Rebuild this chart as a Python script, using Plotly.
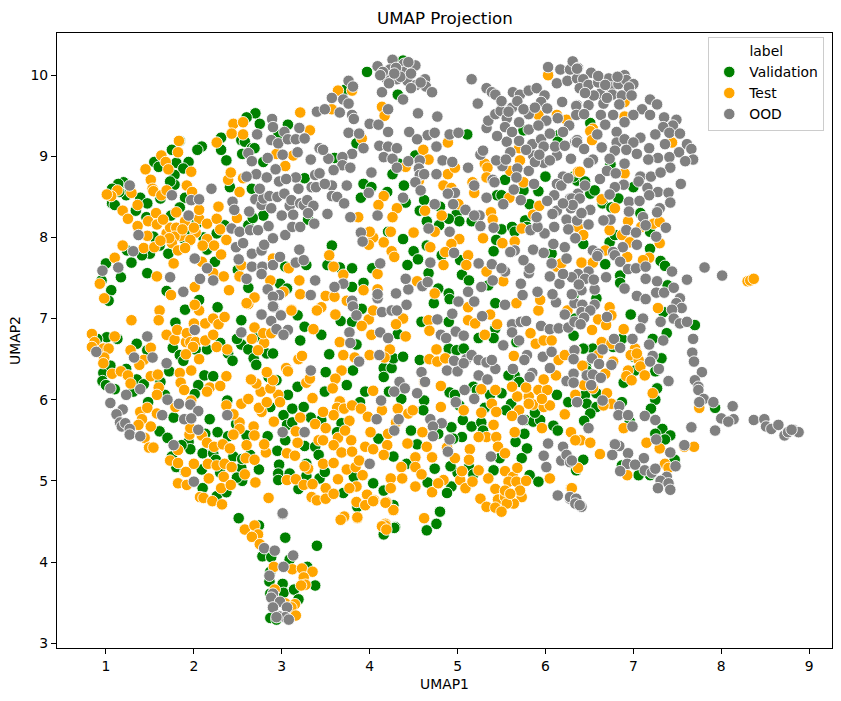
import plotly.graph_objects as go

# values, (UMAP1, UMAP2)
validation_points = [
    (2.70,9.53),(2.75,9.40),(2.60,9.48),(3.07,9.39),(2.31,9.23),(2.09,9.12),(2.04,9.08),(2.31,9.08),(2.37,8.95),(1.75,9.08),
    (1.84,9.19),(1.55,8.93),(1.60,8.87),(1.80,8.92),(1.94,8.93),(1.88,8.85),(1.78,8.77),(1.78,8.65),(1.73,8.69),(1.20,8.68),
    (1.14,8.66),(1.07,8.60),(1.07,8.42),(1.10,8.40),(1.23,8.52),(1.39,8.49),(1.47,8.42),(1.34,8.33),(1.46,8.25),(1.90,8.49),
    (1.84,8.37),(2.35,8.15),(2.26,8.05),(2.15,7.85),(1.92,7.93),(1.96,8.07),(1.54,8.01),(1.61,7.90),(1.29,7.69),(1.00,7.68),
    (1.17,7.51),(1.06,7.35),(1.03,7.22),(1.47,7.56),(1.50,7.80),(1.41,7.78),(1.71,7.80),(1.69,7.34),(2.06,7.23),(1.90,7.11),
    (2.27,7.14),(2.62,7.38),(2.98,7.43),(3.06,7.37),(3.28,7.66),(3.04,7.64),(3.26,8.73),(2.66,8.60),(2.41,8.62),(2.62,8.15),
    (2.79,8.27),(2.67,8.24),(2.54,9.20),(2.58,9.18),(2.66,9.10),(2.79,8.93),(2.69,9.10),(2.55,9.03),(2.96,9.26),(3.30,8.22),
    (1.79,6.95),(2.54,6.98),(3.26,6.90),(3.21,6.73),(3.18,7.04),(1.01,6.77),(1.13,6.75),(1.35,6.69),(1.47,6.61),(1.76,6.64),
    (1.84,6.55),(2.15,6.62),(2.39,6.57),(2.44,6.48),(2.54,6.68),(2.62,6.62),(2.49,6.75),(2.83,6.57),(2.90,6.57),(2.68,6.51),
    (2.71,6.43),(1.23,6.38),(0.97,6.33),(0.96,6.23),(1.10,6.13),(1.35,6.25),(1.43,6.19),(1.72,6.35),(2.12,6.30),(2.22,6.29),
    (2.05,6.18),(2.01,6.07),(1.48,5.97),(1.67,6.06),(1.77,5.78),(2.18,5.76),(2.38,5.99),(1.61,5.61),(1.70,5.53),(1.94,5.48),
    (1.96,5.39),(2.27,5.60),(2.39,5.55),(2.48,5.70),(2.10,5.34),(2.22,5.34),(2.25,5.26),(2.09,5.14),(2.45,5.30),(2.54,5.16),
    (2.64,5.32),(2.74,5.14),(2.55,5.00),(2.49,5.04),(2.10,4.91),(2.26,4.81),(2.37,4.86),(1.80,5.17),(1.90,5.11),(1.75,5.30),
    (2.60,5.56),(2.84,5.55),(2.95,5.37),(2.97,5.20),(2.96,5.09),(2.96,5.01),(3.09,5.09),(3.19,4.90),(3.02,5.81),(3.12,5.89),
    (3.25,5.91),(3.06,5.69),(3.04,5.50),(3.26,5.43),(3.38,5.42),(3.28,5.21),(3.42,5.32),(3.07,6.06),(2.87,5.91),(3.18,6.16),
    (2.94,6.24),(2.51,4.54),(3.43,5.03),(3.80,7.39),(3.93,7.44),(3.91,7.12),(3.67,6.97),(3.80,6.96),(3.45,6.80),(3.54,6.56),
    (3.50,6.34),(3.81,6.36),(3.85,6.68),(4.16,6.39),(4.25,6.39),(4.16,6.28),(4.27,6.51),(4.38,6.53),(4.32,6.81),(3.74,6.18),
    (3.49,6.10),(3.95,6.10),(4.36,6.01),(4.62,5.99),(4.61,5.87),(4.22,6.10),(3.89,5.97),(3.68,5.71),(3.45,5.75),(4.57,6.49),
    (4.90,6.63),(4.99,6.61),(5.07,6.63),(4.91,6.09),(5.18,6.16),(5.22,6.12),(4.97,6.06),(4.93,5.66),(5.06,5.75),(5.16,5.67),
    (5.27,5.72),(5.29,5.62),(5.05,5.54),(4.95,5.52),(4.73,7.19),(4.78,7.37),(4.90,7.31),(4.91,7.24),(5.05,7.54),(5.13,7.47),
    (5.43,7.19),(5.35,7.41),(4.90,6.96),(4.59,6.96),(4.67,7.56),(5.43,6.88),(5.41,6.76),(5.24,6.76),(5.67,6.71),(5.65,6.30),
    (5.70,6.22),(5.50,6.08),(5.61,5.95),(5.37,6.06),(5.55,5.87),(5.77,5.75),(5.86,5.73),(6.09,5.68),(5.94,5.75),(6.13,6.06),
    (6.26,5.97),(5.79,5.40),(5.73,5.28),(5.76,5.58),(5.66,5.48),(5.82,5.07),(5.92,4.99),(5.41,5.13),(5.13,5.17),(5.00,5.10),
    (4.93,4.93),(4.88,4.85),(4.66,4.98),(4.80,4.62),(4.76,4.47),(4.54,5.45),(4.27,5.30),(4.04,4.97),(4.16,4.88),(3.70,4.85),
    (3.49,5.11),(4.42,5.21),(4.74,5.15),(4.29,4.43),(4.65,4.39),(3.97,10.04),(4.38,10.18),(4.32,9.76),(3.72,9.82),(5.11,9.27),
    (3.85,9.16),(3.60,8.98),(4.52,9.01),(4.33,8.91),(4.26,8.78),(3.93,8.66),(4.02,8.62),(3.90,8.49),(4.20,8.56),(4.39,8.64),
    (4.41,8.43),(4.62,8.46),(4.57,8.33),(4.80,8.38),(4.99,8.29),(5.02,8.20),(4.90,8.23),(4.65,8.20),(4.79,8.15),(5.16,8.20),
    (5.45,8.52),(5.50,8.52),(5.75,8.58),(5.92,8.57),(5.82,8.41),(6.00,8.75),(5.54,8.71),(6.15,9.26),(6.14,9.18),(5.75,9.32),
    (5.50,8.10),(5.62,8.13),(5.65,8.07),(5.44,7.97),(5.77,8.21),(5.79,8.13),(6.07,7.80),(5.41,7.83),(4.38,7.98),(4.50,7.83),
    (4.55,7.73),(4.43,7.66),(3.57,7.90),(3.52,7.66),(3.80,7.62),(3.66,7.63),(4.03,7.62),(4.21,8.07),(5.03,7.72),(4.82,7.78),
    (4.65,7.90),(6.36,8.70),(6.51,9.41),(6.74,8.90),(6.83,8.48),(7.00,8.62),(6.51,8.54),(6.56,8.58),(6.45,8.69),(6.32,8.75),
    (6.65,8.42),(6.75,8.37),(7.08,8.30),(6.73,7.94),(6.79,8.03),(6.43,7.92),(7.19,8.07),(7.19,7.86),(6.68,7.67),(7.31,7.71),
    (7.36,7.65),(6.85,7.53),(6.85,7.44),(7.39,7.41),(6.32,7.29),(6.58,7.25),(6.97,7.05),(7.34,7.08),(7.70,6.92),(7.38,6.82),
    (7.22,6.75),(6.32,6.79),(6.34,7.00),(7.32,6.51),(6.87,6.75),(6.77,6.65),(6.54,6.63),(6.43,6.63),(6.46,6.41),(6.47,6.36),
    (6.89,6.21),(7.25,6.35),(7.27,6.14),(7.25,6.00),(6.87,5.97),(6.45,6.06),(6.47,5.95),(6.58,6.08),(6.58,5.91),(6.51,5.83),
    (6.44,5.74),(7.20,5.89),(7.93,5.90),(6.96,5.73),(7.33,5.64),(7.25,5.58),(7.42,5.56),(7.36,5.51),(6.43,5.26),(6.35,5.13),
    (7.47,5.26),(7.06,5.07),(6.87,5.19),(7.19,5.07),(7.00,6.53),(7.02,6.36),(2.78,4.07),(2.88,4.06),(3.09,4.03),(3.29,3.94),
    (2.87,3.88),(2.86,3.76),(3.01,3.73),(3.02,3.62),(3.14,3.66),(3.38,3.71),(3.19,3.54),(2.87,3.61),(2.87,3.31),(2.94,3.29),
    (4.28,4.42),(4.16,4.34),(4.27,4.70),(3.86,4.68),(3.04,4.30),(3.40,4.20),(2.74,4.45),
    # crescents showing under other marks
    (1.15,8.56),(1.62,8.48),(1.74,8.27),(2.03,8.17),(2.11,8.00),(1.88,7.99),(1.24,7.84),(0.95,7.47),(2.24,7.70),(2.50,7.60),
    (0.90,6.75),(1.05,6.42),(1.00,6.18),(1.31,6.10),(1.62,6.22),(1.88,6.48),(2.02,6.62),(2.30,6.70),(2.72,6.78),(2.85,6.28),
    (1.86,5.44),(2.13,5.58),(2.30,5.10),(2.55,5.27),(3.12,5.72),(3.33,5.78),(3.28,5.06),(3.63,5.60),(3.82,5.05),(4.10,5.52),
    (4.47,5.62),(4.78,5.58),(5.02,5.93),(5.31,5.90),(5.58,6.30),(5.88,5.84),(6.14,5.62),(5.48,5.28),(5.18,5.08),(4.92,5.18),
]

test_points = [
    (1.83,9.19),(1.82,9.05),(1.63,9.01),(1.68,8.93),(1.71,8.84),(1.45,8.84),(1.97,8.81),(1.51,8.71),(1.53,8.60),(1.54,8.57),
    (1.13,8.58),(1.06,8.51),(1.01,8.53),(1.29,8.55),(1.63,8.52),(1.69,8.58),(1.92,8.64),(1.98,8.56),(1.19,8.33),(1.25,8.23),
    (1.36,8.14),(1.57,8.30),(1.80,8.31),(1.48,8.20),(1.58,8.16),(1.47,8.02),(1.69,8.05),(1.73,8.12),(1.80,8.12),(1.85,8.02),
    (1.78,8.01),(2.06,8.23),(2.06,8.34),(2.15,8.17),(2.26,8.23),(2.02,8.06),(1.96,7.97),(2.15,7.98),(2.23,7.90),(2.31,7.79),
    (2.37,7.97),(1.75,7.93),(1.82,7.84),(1.77,7.68),(1.19,7.90),(1.43,7.87),(1.55,7.88),(1.10,7.75),(0.93,7.43),(0.98,7.25),
    (1.58,7.52),(1.74,7.29),(2.01,7.39),(2.09,7.70),(2.22,7.56),(2.34,7.52),(2.40,7.35),(2.52,7.52),(2.54,7.66),(2.28,8.38),
    (2.49,8.24),(2.52,8.56),(2.39,8.71),(2.42,8.80),(2.56,8.73),(2.26,9.17),(2.45,9.40),(2.43,9.28),(2.56,9.42),(2.56,9.27),
    (3.21,9.54),(3.32,9.32),(3.04,8.88),(3.13,9.01),(2.94,9.03),(3.20,7.47),(3.21,7.30),(2.62,7.18),(2.69,7.26),(2.90,7.74),
    (3.08,7.62),(2.87,7.47),(3.02,7.33),(2.01,7.16),(3.11,7.11),(3.45,7.14),(1.29,6.98),(1.61,7.10),(1.60,6.98),(0.84,6.81),
    (0.87,6.71),(0.84,6.65),(1.10,6.78),(0.97,6.63),(1.03,6.63),(0.98,6.52),(0.97,6.45),(1.07,6.32),(1.17,6.35),(1.25,6.30),
    (1.28,6.20),(1.28,6.61),(1.51,6.64),(1.43,6.49),(1.38,6.43),(1.51,6.29),(1.59,6.31),(1.60,6.15),(1.58,6.06),(1.39,5.85),
    (1.47,5.90),(1.41,5.76),(1.37,5.69),(1.51,5.67),(1.44,5.53),(1.49,5.41),(1.54,5.41),(1.58,5.83),(1.69,6.80),(1.78,6.74),
    (1.81,6.86),(1.91,6.71),(2.00,6.94),(1.92,6.82),(1.96,6.71),(2.02,6.71),(1.99,6.65),(1.91,6.56),(2.06,6.50),(2.13,6.73),
    (2.22,6.80),(2.26,6.65),(2.38,6.62),(2.13,6.94),(2.22,7.00),(2.28,6.93),(2.35,7.02),(2.06,7.10),(2.01,7.17),(1.97,6.36),
    (1.84,6.33),(1.85,6.21),(1.89,6.12),(2.18,6.15),(2.15,6.10),(2.30,6.17),(2.37,6.29),(1.79,5.91),(1.97,5.99),(2.37,5.93),
    (2.54,5.95),(2.62,6.01),(2.52,5.72),(2.52,5.64),(2.45,5.57),(2.68,5.67),(2.69,5.56),(1.95,5.57),(1.96,5.65),(2.09,5.56),
    (2.15,5.47),(2.23,5.42),(2.33,5.45),(2.41,5.40),(1.82,5.38),(1.73,5.25),(1.82,5.22),(2.00,5.21),(1.91,5.11),(1.82,4.97),
    (1.92,4.95),(2.16,5.21),(2.26,5.19),(2.35,5.21),(2.43,5.17),(2.17,5.03),(2.34,5.05),(2.31,4.91),(2.42,4.95),(2.07,4.80),
    (2.11,4.79),(2.21,4.75),(2.32,4.71),(2.58,5.08),(2.70,4.98),(2.59,5.28),(2.69,5.26),(2.82,5.35),(2.80,5.45),(2.85,4.79),
    (3.06,5.34),(3.15,5.31),(3.06,5.01),(3.16,5.02),(3.25,4.95),(3.30,5.15),(3.26,5.18),(3.34,4.80),(3.40,4.76),(3.35,4.96),
    (3.18,5.47),(3.16,5.61),(3.21,5.78),(3.38,5.70),(3.42,5.50),(3.35,6.02),(3.28,6.21),(3.32,6.26),(2.91,5.73),(2.77,5.85),
    (2.74,5.90),(2.83,5.97),(2.96,6.06),(2.98,5.97),(2.76,6.10),(2.87,6.14),(2.90,6.24),(2.71,6.20),(2.65,6.25),(2.83,6.34),
    (3.05,6.39),(3.07,6.35),(3.19,6.50),(3.23,6.54),(2.60,7.19),(2.69,6.89),(2.66,6.75),(2.80,6.70),(2.73,6.61),(2.79,6.82),
    (2.88,6.82),(3.11,7.10),(3.36,6.87),(3.40,7.10),(3.70,7.54),(3.93,7.35),(3.50,7.28),(3.60,7.27),(3.74,7.22),(3.61,7.05),
    (3.99,6.99),(4.04,7.10),(3.91,6.91),(4.02,6.80),(3.66,6.71),(3.70,6.55),(3.83,6.52),(4.00,6.55),(4.23,6.62),(4.17,6.52),
    (4.38,7.00),(4.30,6.93),(4.41,6.78),(4.09,7.55),(4.09,7.36),(4.54,7.46),(4.74,7.31),(4.67,6.98),(4.68,6.85),(4.76,6.62),
    (4.68,6.50),(4.77,6.47),(4.86,6.51),(4.62,6.22),(4.81,6.17),(3.68,6.36),(3.61,6.26),(3.58,6.14),(3.66,5.98),(3.63,5.90),
    (3.71,5.89),(3.80,5.93),(3.90,5.89),(3.59,5.81),(3.77,5.74),(3.47,5.85),(4.04,6.11),(4.14,5.87),(3.98,5.79),(4.32,5.89),
    (4.44,5.83),(4.49,5.87),(4.81,5.91),(5.07,5.87),(5.27,5.84),(5.39,5.95),(5.44,5.85),(5.68,6.04),(5.81,6.04),(5.62,6.16),
    (5.43,6.12),(5.27,6.13),(5.86,5.94),(5.98,5.91),(6.05,5.93),(5.92,6.12),(6.02,6.12),(5.96,6.01),(5.81,5.95),(5.70,5.87),
    (5.62,5.80),(6.22,5.82),(5.96,5.65),(5.65,5.60),(5.41,5.69),(5.33,5.54),(5.44,5.54),(5.24,5.54),(5.46,5.42),(5.54,5.34),
    (5.14,5.39),(5.13,5.26),(4.97,5.28),(4.88,5.41),(4.43,5.46),(4.65,5.42),(3.64,5.53),(3.79,5.50),(3.95,5.42),(4.01,5.60),
    (4.21,5.58),(4.20,5.44),(4.16,5.32),(3.47,5.50),(3.59,5.44),(3.68,5.35),(3.80,5.36),(4.04,5.39),(3.47,5.21),(3.59,5.22),
    (3.74,5.14),(3.84,5.17),(3.64,5.02),(4.36,5.17),(4.52,5.29),(4.71,5.29),(4.52,5.17),(4.59,5.08),(4.24,5.03),(4.37,5.03),
    (4.24,4.91),(4.52,4.93),(4.71,4.86),(4.84,5.01),(4.78,4.97),(5.03,5.01),(5.09,4.91),(5.17,4.99),(5.24,5.13),(5.54,5.12),
    (5.43,4.90),(5.26,4.78),(5.33,4.68),(5.46,4.77),(5.43,4.67),(5.54,4.80),(5.63,5.05),(5.58,4.99),(5.67,4.99),(5.73,4.80),
    (5.64,4.72),(5.56,4.72),(5.71,4.88),(5.54,4.88),(6.05,5.03),(6.29,4.91),(3.50,4.91),(3.50,4.78),(3.59,4.84),(3.85,4.93),
    (3.77,4.91),(3.85,4.74),(3.95,4.70),(3.97,4.83),(4.05,4.76),(4.19,4.74),(4.27,4.64),(3.71,4.56),(3.86,4.54),(4.62,4.54),
    (4.18,4.47),(4.16,4.43),(5.52,7.46),(5.33,7.58),(5.92,7.10),(5.94,7.23),(5.67,7.19),(5.45,6.93),(5.31,6.80),(5.83,6.82),
    (5.89,6.69),(5.98,6.73),(6.07,6.73),(6.15,6.49),(5.64,6.54),(6.25,7.10),(6.34,6.61),(5.12,6.98),(5.20,6.94),(5.37,7.05),
    (5.12,7.14),(6.03,10.00),(3.64,9.81),(3.80,9.81),(3.57,9.58),(4.14,9.61),(4.17,9.50),(3.91,9.22),(4.89,9.17),(4.61,9.08),
    (4.67,8.96),(4.41,8.87),(4.89,8.78),(4.97,8.86),(4.84,8.64),(4.93,8.61),(4.56,8.70),(5.19,8.55),(5.17,8.68),(5.31,8.91),
    (5.34,8.86),(5.33,8.74),(5.60,8.82),(5.59,8.49),(5.70,9.10),(5.71,8.95),(5.75,8.68),(5.92,9.51),(6.13,9.51),(6.24,9.45),
    (6.37,8.81),(4.16,8.51),(4.10,8.40),(4.31,8.36),(4.26,8.25),(3.87,8.25),(4.63,8.33),(4.82,8.27),(5.01,8.41),(5.38,8.31),
    (5.40,8.22),(5.86,8.28),(5.93,8.39),(5.73,8.11),(5.29,7.99),(5.51,7.93),(5.65,7.95),(5.02,7.98),(4.93,7.92),(4.86,7.82),
    (5.12,7.78),(4.50,8.06),(4.74,8.07),(4.24,8.07),(4.16,7.94),(4.04,8.00),(4.00,8.07),(3.99,7.91),(4.25,7.83),(4.28,7.76),
    (4.69,7.88),(3.54,7.78),(3.59,7.64),(4.84,7.66),(5.10,7.66),(6.13,7.64),(6.18,7.68),(6.90,9.67),(6.90,9.49),(6.54,9.34),
    (6.51,9.31),(6.53,9.20),(7.44,9.17),(6.39,8.81),(6.90,8.79),(6.64,8.47),(6.79,8.36),(6.94,8.20),(6.37,8.13),(6.73,8.09),
    (7.23,8.17),(7.30,8.19),(6.87,8.03),(6.96,7.94),(6.68,7.84),(6.43,8.03),(7.30,7.93),(7.09,8.13),(6.41,7.69),(6.54,7.69),
    (6.93,7.76),(7.18,7.75),(7.11,7.72),(6.73,7.14),(6.75,7.04),(6.60,6.99),(6.69,6.92),(6.53,6.86),(6.89,6.87),(7.28,7.13),
    (8.30,7.46),(8.33,7.47),(8.37,7.49),(6.64,6.71),(6.75,6.69),(7.02,6.63),(6.97,6.55),(7.06,6.49),(7.04,6.57),(7.08,6.41),
    (6.94,6.36),(6.92,6.29),(6.98,6.24),(7.13,6.30),(6.68,6.32),(6.77,6.47),(7.22,6.08),(6.70,6.08),(6.44,6.18),(6.54,6.14),
    (6.34,6.06),(6.75,5.95),(6.66,5.93),(7.75,5.90),(6.89,5.65),(6.29,5.60),(6.40,5.50),(6.51,5.47),(6.62,5.33),(7.15,5.47),
    (7.30,5.40),(7.58,5.42),(7.69,5.42),(7.36,5.21),(7.40,5.16),(6.37,5.16),(6.93,5.07),(6.30,4.91),(6.34,5.50),(2.58,4.40),
    (2.69,4.45),(2.73,4.34),(2.66,4.31),(2.75,4.22),(2.91,3.94),(3.12,3.91),(3.23,3.92),(3.35,3.88),(3.25,3.81),(3.27,3.72),
    (3.22,3.71),(2.92,3.66),(3.04,3.49),(3.15,3.48),(3.11,3.44),(3.16,3.34),(3.71,4.56),(3.67,4.52),(3.86,4.55),(4.18,4.45),
    (4.14,4.44),(4.19,4.40),(4.27,4.64),(3.95,4.70),(4.18,4.73),(4.04,4.75),
    # second pass, clumps that were still thin
    (1.65,8.22),(1.90,8.20),(2.00,8.12),(1.72,7.99),(1.62,7.96),(1.90,7.87),(2.10,7.90),(1.87,8.10),(2.30,8.10),(1.36,8.40),
    (2.45,5.82),(2.60,5.44),(3.50,5.65),(3.72,5.62),(3.88,5.25),(3.92,5.07),(4.30,5.72),(4.60,5.60),(5.05,5.12),(5.35,5.03),
    (5.60,4.84),(5.50,4.62),(5.78,5.00),(5.68,5.16),(5.78,6.15),(5.98,6.25),(6.12,6.30),(6.42,6.42),(6.60,6.55),(6.22,6.55),
]

ood_points = [
    (1.27,8.64),(0.96,7.59),(1.14,7.63),(1.31,7.83),(1.37,8.03),(1.75,8.52),(1.97,8.46),(2.06,8.47),(2.20,8.60),(1.94,8.27),
    (2.44,8.44),(2.46,8.34),(1.73,7.51),(2.01,7.74),(2.15,7.62),(2.07,7.49),(2.22,7.47),(1.88,7.33),(2.43,8.11),(2.52,8.07),
    (2.48,7.88),(2.56,7.93),(2.51,7.73),(2.66,7.80),(2.77,7.84),(2.80,7.91),(2.64,8.09),(2.73,8.09),(2.85,8.14),(2.90,7.99),
    (3.04,8.03),(2.66,7.64),(2.78,7.64),(2.90,7.66),(2.98,7.76),(2.77,7.55),(2.60,7.49),(2.84,7.36),(2.97,7.29),(2.90,7.27),
    (2.91,7.14),(3.20,7.85),(3.16,7.69),(3.25,7.72),(3.38,7.47),(3.33,7.29),(2.63,8.32),(2.70,8.47),(2.77,8.40),(2.79,8.48),
    (2.86,8.51),(2.95,8.50),(2.88,8.36),(3.03,8.54),(3.00,8.27),(3.09,8.39),(3.13,8.28),(3.11,8.46),(3.21,8.42),(3.25,8.40),
    (3.29,8.46),(3.36,8.39),(3.12,8.13),(3.21,8.13),(3.37,8.17),(2.71,8.78),(2.83,8.74),(2.93,8.84),(2.97,8.69),(3.16,8.74),
    (3.19,8.60),(3.34,8.62),(3.39,8.62),(3.38,8.77),(3.43,8.79),(2.62,9.04),(2.66,8.94),(2.84,8.98),(3.01,9.02),(3.18,9.05),
    (3.33,8.96),(3.43,9.10),(2.72,9.27),(2.89,9.46),(2.90,9.36),(2.88,9.20),(2.96,9.16),(3.03,9.30),(3.07,9.21),(3.16,9.21),
    (3.26,9.22),(3.20,9.35),(3.40,9.55),(1.47,6.78),(2.01,6.86),(0.89,6.59),(1.32,6.52),(1.53,6.52),(1.69,6.45),(1.05,6.14),
    (1.23,6.06),(1.39,6.13),(1.05,5.96),(1.19,5.88),(1.12,5.82),(1.16,5.72),(1.18,5.67),(1.22,5.71),(1.27,5.64),(1.27,5.57),
    (1.39,5.55),(1.70,6.00),(1.83,5.95),(1.96,5.94),(1.64,5.81),(2.05,5.86),(1.89,5.76),(1.97,5.77),(2.05,5.63),(1.77,5.44),
    (2.00,4.99),(2.38,5.81),(3.01,5.60),(3.26,5.60),(3.01,4.59),(3.33,6.36),(2.54,6.83),(2.77,7.05),(2.90,7.15),(2.99,7.04),
    (2.88,6.97),(2.94,6.87),(3.07,6.86),(3.02,6.80),(3.70,7.43),(3.60,7.39),(3.80,7.22),(3.81,7.15),(3.85,7.04),(4.09,7.25),
    (4.09,7.30),(4.14,7.08),(4.30,7.31),(4.44,7.36),(4.41,7.49),(4.42,7.17),(4.25,7.10),(4.31,7.10),(4.60,7.40),(4.66,7.45),
    (3.77,6.83),(3.78,6.70),(4.12,6.83),(4.21,6.76),(4.11,6.55),(3.88,6.47),(4.34,6.22),(4.40,6.14),(4.28,6.10),(4.54,6.08),
    (4.13,5.99),(4.33,5.76),(4.08,5.76),(4.28,5.62),(4.00,5.21),(4.59,6.34),(4.63,6.22),(4.69,5.76),(4.82,5.71),(4.72,5.67),
    (4.72,5.55),(4.91,5.51),(4.89,5.36),(4.98,5.97),(5.19,6.01),(5.08,6.12),(4.88,6.36),(5.00,6.35),(4.96,6.48),(5.10,6.50),
    (5.07,6.45),(5.16,6.55),(5.24,6.49),(5.33,6.46),(5.24,6.30),(5.34,6.25),(5.43,6.38),(5.63,6.38),(5.39,6.49),(4.77,6.99),
    (4.81,6.80),(4.87,6.76),(4.98,6.84),(5.07,6.79),(4.94,7.06),(5.01,7.21),(5.19,7.21),(5.12,7.33),(5.28,7.03),(5.27,7.39),
    (5.54,7.17),(5.62,6.93),(5.72,6.96),(5.78,6.97),(5.62,6.83),(5.70,6.73),(5.52,6.67),(5.95,6.91),(6.05,6.87),(6.15,6.88),
    (6.26,6.89),(6.33,6.96),(5.79,6.55),(5.76,6.49),(5.97,6.53),(6.07,6.59),(6.05,6.39),(5.85,6.33),(5.82,6.28),(6.33,6.61),
    (6.32,6.32),(6.24,6.23),(6.12,7.20),(6.16,7.43),(6.05,7.52),(5.91,7.33),(5.74,7.29),(5.72,7.43),(5.81,7.56),(5.54,7.58),
    (5.40,7.47),(6.36,5.97),(5.74,5.75),(6.03,5.46),(6.20,5.42),(5.98,5.31),(6.01,5.17),(6.18,5.25),(6.24,5.32),(6.28,5.23),
    (5.38,5.30),(6.14,4.82),(6.28,4.78),(6.35,4.72),(4.09,10.11),(4.26,10.19),(4.23,10.07),(4.39,10.14),(4.52,10.12),(4.19,9.96),
    (4.31,9.95),(4.43,9.93),(4.38,10.04),(4.53,9.88),(4.63,9.95),(4.64,9.86),(4.71,9.79),(4.38,9.70),(4.14,9.79),(3.76,9.93),
    (3.81,9.86),(3.57,9.72),(3.70,9.70),(3.76,9.65),(3.66,9.54),(3.80,9.51),(3.82,9.46),(4.21,9.58),(4.55,9.53),(4.77,9.49),
    (5.16,9.95),(5.33,9.84),(5.39,9.79),(5.43,9.76),(5.23,9.65),(3.49,9.58),(4.00,9.40),(4.10,9.39),(4.21,9.30),(3.76,9.29),
    (3.88,9.28),(4.45,9.30),(4.66,9.26),(4.54,9.21),(4.74,9.29),(4.91,9.27),(5.01,9.29),(3.93,9.10),(4.11,9.13),(4.21,9.12),
    (4.31,9.10),(4.76,9.12),(3.80,9.03),(3.69,8.99),(3.53,8.97),(3.47,9.08),(4.16,8.99),(4.26,8.97),(4.44,8.94),(4.57,8.95),
    (4.56,8.85),(3.69,8.89),(3.78,8.86),(3.59,8.83),(4.31,8.86),(4.02,8.80),(4.83,8.95),(4.94,8.93),(4.76,8.78),(5.12,8.86),
    (4.57,8.77),(4.62,8.78),(4.52,8.68),(4.58,8.58),(3.74,8.64),(3.99,8.55),(3.57,8.64),(3.57,8.51),(3.63,8.50),(3.71,8.42),
    (3.49,8.66),(4.38,8.49),(4.74,8.41),(4.97,8.55),(4.89,8.54),(4.95,8.41),(5.09,8.34),(5.19,8.64),(5.25,8.27),(5.19,8.27),
    (5.26,8.14),(5.33,8.49),(5.52,8.41),(5.51,8.88),(5.44,8.95),(5.26,9.02),(5.29,9.07),(5.40,8.71),(5.42,8.68),(5.56,9.18),
    (5.70,9.19),(5.68,8.85),(5.67,8.74),(5.81,8.82),(5.87,8.66),(5.64,8.59),(5.72,8.46),(5.86,9.01),(5.81,9.33),(5.85,9.15),
    (5.95,9.21),(5.98,9.12),(5.98,8.92),(5.88,8.93),(6.13,9.01),(6.11,9.12),(6.29,8.97),(6.34,9.18),(6.20,8.75),(6.13,8.66),
    (6.18,8.64),(6.26,8.73),(6.10,8.52),(6.28,8.48),(6.37,8.54),(6.29,8.36),(6.13,8.33),(6.08,8.29),(6.24,8.22),(6.10,8.13),
    (5.99,8.05),(5.83,8.09),(5.91,8.13),(6.26,8.10),(6.36,8.21),(6.09,7.92),(6.22,7.88),(6.34,7.99),(6.24,7.74),(6.07,7.68),
    (5.82,7.62),(5.86,7.85),(5.98,7.81),(5.65,7.84),(5.60,7.82),(5.41,8.12),(4.91,8.07),(4.67,8.11),(5.24,7.68),(5.39,7.67),
    (4.96,7.81),(4.69,7.69),(4.12,7.68),(3.90,8.06),(3.92,7.95),(4.09,8.27),(3.78,8.25),(3.52,8.29),(5.33,9.35),(5.35,9.44),
    (5.43,9.52),(5.49,9.56),(5.56,9.47),(5.54,9.36),(5.62,9.60),(5.81,9.52),(5.63,9.79),(5.71,9.76),(5.81,9.81),(5.90,9.84),
    (5.99,9.75),(5.95,9.67),(6.02,9.59),(6.01,9.44),(6.19,9.67),(6.14,9.47),(6.36,9.63),(6.36,9.51),(6.27,9.38),(6.03,10.10),
    (6.17,10.07),(6.28,10.07),(6.31,10.17),(6.13,9.90),(6.25,9.93),(6.36,9.96),(6.37,10.09),(6.36,9.20),(6.36,10.08),(6.52,10.03),
    (6.43,9.95),(6.39,9.84),(6.49,9.88),(6.60,9.91),(6.72,9.96),(6.74,9.85),(6.83,9.89),(6.90,10.00),(6.92,9.94),(7.00,9.89),
    (6.62,9.77),(6.76,9.76),(6.87,9.75),(6.66,9.65),(6.84,9.64),(7.19,9.70),(7.27,9.64),(7.10,9.58),(6.49,9.63),(6.35,9.62),
    (6.35,9.51),(6.44,9.52),(6.63,9.51),(6.77,9.51),(7.00,9.51),(6.90,9.42),(7.19,9.51),(7.35,9.48),(7.49,9.45),(6.68,9.39),
    (7.45,9.38),(7.34,9.36),(6.59,9.27),(6.81,9.30),(7.25,9.27),(7.41,9.29),(7.53,9.28),(7.08,9.23),(6.36,9.17),(6.81,9.17),
    (6.90,9.21),(7.00,9.17),(7.36,9.15),(7.18,9.10),(7.61,9.15),(6.44,9.09),(6.64,9.11),(6.79,9.07),(6.92,9.08),(7.66,9.09),
    (7.52,9.05),(7.04,9.03),(7.28,8.98),(7.17,8.96),(7.41,8.99),(7.68,8.96),(7.59,8.94),(6.54,8.96),(6.49,8.92),(6.73,8.97),
    (6.90,8.91),(7.42,8.86),(6.62,8.72),(6.70,8.82),(6.80,8.79),(7.08,8.75),(7.20,8.75),(7.31,8.80),(6.89,8.65),(6.79,8.62),
    (7.06,8.69),(7.54,8.66),(6.45,8.64),(7.16,8.61),(7.28,8.56),(7.40,8.55),(6.73,8.53),(7.18,8.52),(7.42,8.43),(6.95,8.44),
    (7.07,8.45),(6.30,8.48),(6.39,8.48),(7.30,8.36),(6.51,8.34),(6.95,8.32),(6.41,8.30),(7.27,8.31),(7.11,8.25),(6.74,8.22),
    (6.66,8.21),(6.49,8.16),(7.14,8.15),(7.37,8.12),(6.92,8.09),(7.03,8.06),(7.26,8.01),(6.34,7.99),(6.88,7.88),(7.04,7.91),
    (6.54,7.84),(6.77,7.82),(6.60,7.80),(6.31,8.40),(7.81,7.63),(8.01,7.53),(6.59,7.77),(6.79,7.78),(6.85,7.70),(6.94,7.61),
    (7.03,7.62),(7.14,7.64),(7.14,7.49),(7.44,7.58),(7.61,7.48),(6.69,7.51),(6.49,7.58),(6.37,7.55),(6.45,7.49),(6.30,7.51),
    (7.27,7.46),(6.90,7.37),(7.04,7.28),(7.14,7.24),(7.26,7.32),(7.35,7.32),(7.46,7.38),(6.56,7.36),(6.41,7.35),(7.53,7.25),
    (7.49,7.19),(7.55,7.13),(7.44,7.11),(6.33,7.19),(6.42,7.17),(6.56,7.17),(6.41,7.08),(6.51,7.10),(6.44,7.01),(6.40,6.93),
    (6.70,7.02),(7.11,7.00),(7.31,6.96),(7.46,7.00),(7.53,6.94),(7.61,6.96),(7.08,6.88),(6.78,6.75),(6.99,6.75),(7.34,6.73),
    (7.68,6.75),(7.18,6.68),(6.85,6.64),(6.65,6.62),(6.33,6.61),(6.32,6.50),(6.53,6.51),(7.67,6.58),(7.69,6.47),(7.22,6.54),
    (7.19,6.47),(6.61,6.44),(6.75,6.43),(7.78,6.34),(7.29,6.38),(6.47,6.30),(6.54,6.31),(6.32,6.32),(6.63,6.27),(7.40,6.23),
    (7.70,6.24),(6.32,6.21),(7.74,6.16),(6.52,6.18),(7.74,6.12),(7.80,6.01),(6.36,5.97),(6.65,5.99),(7.75,5.97),(7.91,5.97),
    (6.84,5.92),(8.13,5.92),(6.83,5.81),(6.94,5.81),(7.13,5.80),(8.14,5.76),(8.00,5.77),(8.08,5.73),(7.25,5.75),(8.37,5.75),
    (8.49,5.76),(8.51,5.67),(8.57,5.64),(8.65,5.69),(8.72,5.56),(8.76,5.60),(8.82,5.63),(8.88,5.60),(8.80,5.63),(7.66,5.66),
    (7.93,5.62),(6.99,5.67),(6.49,5.65),(7.26,5.51),(7.58,5.44),(6.84,5.43),(6.79,5.45),(6.76,5.32),(6.94,5.34),(7.42,5.35),
    (7.12,5.28),(6.93,5.21),(7.02,5.20),(6.85,5.12),(7.13,5.13),(7.21,5.10),(7.25,5.15),(7.48,5.18),(7.38,5.05),(7.31,5.00),
    (7.40,4.97),(7.28,4.91),(7.42,4.89),(6.30,5.25),(6.28,4.80),(6.35,4.78),(6.34,4.72),(6.41,4.68),(6.39,4.70),(3.01,4.60),
    (2.80,4.17),(2.92,4.14),(3.13,4.08),(3.02,3.94),(2.86,3.83),(2.90,3.61),(2.88,3.56),(2.98,3.51),(2.90,3.44),(3.06,3.44),
    (2.97,3.33),(3.04,3.32),(3.08,3.29),(2.94,3.32),
    # top cluster is packed tighter than the list above
    (4.15,10.04),(4.30,10.09),(4.22,9.90),(4.35,9.98),(4.47,10.02),(4.58,9.91),(4.47,9.84),(4.12,10.00),(4.28,10.02),(4.44,10.16),
    # second pass, clumps that were still thin
    (5.50,9.68),(5.58,9.55),(5.68,9.68),(5.75,9.58),(5.88,9.60),(5.70,9.42),(5.62,9.30),(5.92,9.38),(6.05,9.28),(6.20,9.30),
    (5.45,9.25),(5.60,9.05),(5.78,9.08),(5.93,9.02),(6.22,9.13),(6.05,8.95),(5.55,8.96),(6.60,9.99),(6.82,9.98),(6.95,9.85),
    (6.68,9.88),(6.98,9.75),(6.55,9.75),(6.45,9.78),(6.70,9.72),(6.20,7.55),(6.08,7.30),(6.30,7.30),(6.22,7.05),(6.38,7.42),
    (6.55,7.48),(5.90,8.25),(6.02,8.45),(6.20,8.42),(5.75,7.72),(5.50,7.62),(2.60,8.75),(2.75,8.60),(3.05,8.72),(3.30,8.30),
]

labels = ["Validation", "Test", "OOD"]
colors = ["green", "orange", "gray"]
groups = [validation_points, test_points, ood_points]

fig = go.Figure()
for label, color, points in zip(labels, colors, groups):
    xs, ys = zip(*points)
    fig.add_trace(go.Scatter(
        x=xs, y=ys, mode="markers", name=label,
        marker=dict(color=color, size=11.5, line=dict(color="white", width=0.9)),
    ))

axis = dict(
    showgrid=False, zeroline=False, showline=True, linecolor="black", linewidth=1.1,
    mirror=True, ticks="outside", ticklen=5, tickwidth=1.1, tickcolor="black",
    dtick=1, automargin=False,
)

fig.update_layout(
    width=841, height=701,
    margin=dict(l=57, r=9, t=33, b=53),
    paper_bgcolor="white", plot_bgcolor="white",
    font=dict(family="DejaVu Sans", size=13.9, color="black"),
    title=dict(text="UMAP Projection", x=0.529, xanchor="center", y=0.974, yanchor="middle", font_size=16.7),
    xaxis=dict(axis, title=dict(text="UMAP1", font_size=13.9, standoff=6), range=[0.443, 9.26]),
    yaxis=dict(axis, title=dict(text="UMAP2", font_size=13.9, standoff=6), range=[2.94, 10.52]),
    legend=dict(
        title=dict(text="label", side="top center", font_size=13.9), x=0.99, y=0.993, xanchor="right", yanchor="top",
        bgcolor="white", bordercolor="#cccccc", borderwidth=1,
    ),
)

# page body has a default margin that would shift the figure
fig.write_html(
    "out.html",
    config=dict(displayModeBar=False),
    post_script="document.body.style.margin='0';",
)
